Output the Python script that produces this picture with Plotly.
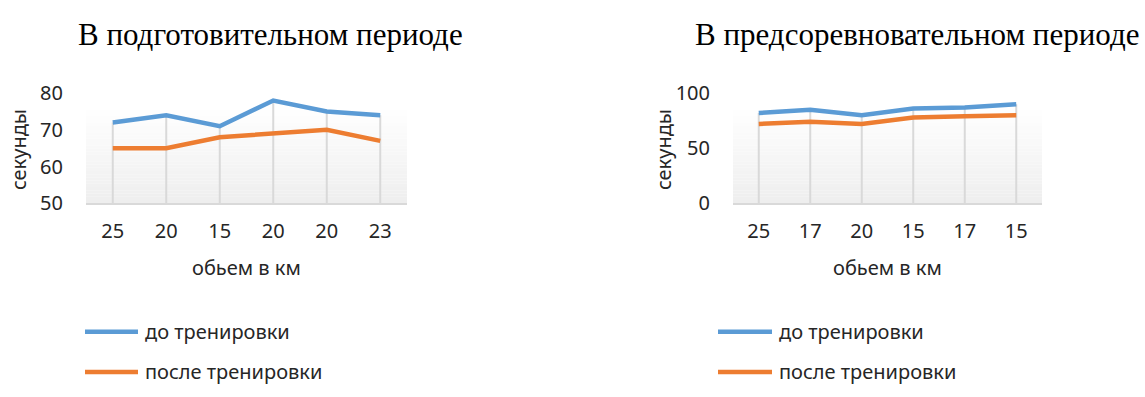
import plotly.graph_objects as go

# Данные: объем тренировки (км) и время (секунды)
prep_km = ["25", "20", "15", "20", "20", "23"]
prep_before = [72, 74, 71, 78, 75, 74]
prep_after = [65, 65, 68, 69, 70, 67]

precomp_km = ["25", "17", "20", "15", "17", "15"]
precomp_before = [82, 85, 80, 86, 87, 90]
precomp_after = [72, 74, 72, 78, 79, 80]

titles = ["В подготовительном периоде", "В предсоревновательном периоде"]
series_names = ["до тренировки", "после тренировки"]
y_ranges = [[50, 80], [0, 100]]
y_ticks = [[50, 60, 70, 80], [0, 50, 100]]

W, H = 1145, 397
BLUE = "#5b9bd5"
ORANGE = "#ed7d31"
GRID = "#d9d9d9"
TEXT = "#262626"
SANS = "'Noto Sans', 'Open Sans', sans-serif"
SERIF = "'Liberation Serif', 'Times New Roman', serif"
FS = 20


def px_x(p):
    return p / W


def px_y(p):
    return 1 - p / H


fig = go.Figure()

panels = [
    dict(km=prep_km, before=prep_before, after=prep_after,
         xdom=[px_x(86), px_x(407)], xa="x", ya="y",
         leg_line=(85, 138), leg_text=143, ytitle_x=18, title_x=270, title_anchor="center"),
    dict(km=precomp_km, before=precomp_before, after=precomp_after,
         xdom=[px_x(733), px_x(1042)], xa="x2", ya="y2",
         leg_line=(718, 772), leg_text=777, ytitle_x=663, title_x=1141, title_anchor="right"),
]
ydom = [px_y(203), px_y(85)]
legend_rows = [341, 384]

for i, p in enumerate(panels):
    xs = list(range(len(p["km"])))
    ymin = y_ranges[i][0]
    # вертикальные линии проекции от точки до оси
    dx, dy = [], []
    for x, b, a in zip(xs, p["before"], p["after"]):
        dx += [x, x, None]
        dy += [ymin, max(b, a), None]
    fig.add_trace(go.Scatter(x=dx, y=dy, mode="lines", xaxis=p["xa"], yaxis=p["ya"],
                             line=dict(color=GRID, width=2), showlegend=False,
                             hoverinfo="skip"))
    for name, vals, col in [(series_names[0], p["before"], BLUE),
                            (series_names[1], p["after"], ORANGE)]:
        fig.add_trace(go.Scatter(x=xs, y=vals, mode="lines", name=name,
                                 xaxis=p["xa"], yaxis=p["ya"], showlegend=False,
                                 line=dict(color=col, width=4.5)))

layout = dict(
    width=W, height=H,
    margin=dict(l=0, r=0, t=0, b=0),
    paper_bgcolor="white", plot_bgcolor="rgba(0,0,0,0)",
    font=dict(family=SANS, size=FS, color=TEXT),
    showlegend=False,
    shapes=[], annotations=[],
)

for i, p in enumerate(panels):
    sfx = "" if i == 0 else "2"
    layout["xaxis" + sfx] = dict(
        domain=p["xdom"], anchor="y" + sfx, range=[-0.5, 5.5],
        tickmode="array", tickvals=list(range(6)), ticktext=p["km"],
        showgrid=False, zeroline=False, showline=True, linecolor=GRID, linewidth=1.5,
        ticks="", ticklabelstandoff=9, tickfont=dict(size=FS, color=TEXT),
        fixedrange=True,
    )
    layout["yaxis" + sfx] = dict(
        domain=ydom, anchor="x" + sfx, range=y_ranges[i],
        tickmode="array", tickvals=y_ticks[i],
        showgrid=False, zeroline=False, showline=False,
        ticks="", ticklabelstandoff=22, tickfont=dict(size=FS, color=TEXT),
        fixedrange=True,
    )
    # градиентная заливка области построения
    n = 30
    top = 0.88
    for k in range(n):
        t = k / (n - 1)
        c = int(round(255 - t * 17))
        layout["shapes"].append(dict(
            type="rect", xref="x" + sfx + " domain", yref="y" + sfx + " domain",
            x0=0, x1=1, y0=top * (1 - (k + 1) / n), y1=top * (1 - k / n),
            fillcolor=f"rgb({c},{c},{c})", line=dict(width=0), layer="below",
        ))
    cx = (p["xdom"][0] + p["xdom"][1]) / 2
    layout["annotations"].append(dict(
        text="обьем в км", xref="paper", yref="paper", x=cx, y=px_y(272),
        xanchor="center", yanchor="middle", showarrow=False,
        font=dict(family=SANS, size=FS, color=TEXT)))
    layout["annotations"].append(dict(
        text="секунды", xref="paper", yref="paper", x=px_x(p["ytitle_x"]), y=px_y(146),
        xanchor="center", yanchor="middle", textangle=-90, showarrow=False,
        font=dict(family=SANS, size=FS, color=TEXT)))
    layout["annotations"].append(dict(
        text=titles[i], xref="paper", yref="paper", x=px_x(p["title_x"]), y=px_y(22),
        xanchor=p["title_anchor"], yanchor="middle", showarrow=False,
        font=dict(family=SERIF, size=31, color="black")))
    # легенда
    for row, name, col in zip(legend_rows, series_names, [BLUE, ORANGE]):
        layout["shapes"].append(dict(
            type="line", xref="paper", yref="paper",
            x0=px_x(p["leg_line"][0]), x1=px_x(p["leg_line"][1]),
            y0=px_y(row), y1=px_y(row), line=dict(color=col, width=4.5)))
        layout["annotations"].append(dict(
            text=name, xref="paper", yref="paper", x=px_x(p["leg_text"]), y=px_y(row),
            xanchor="left", yanchor="middle", showarrow=False,
            font=dict(family=SANS, size=FS, color=TEXT)))

fig.update_layout(**layout)
fig.write_html("out.html")
